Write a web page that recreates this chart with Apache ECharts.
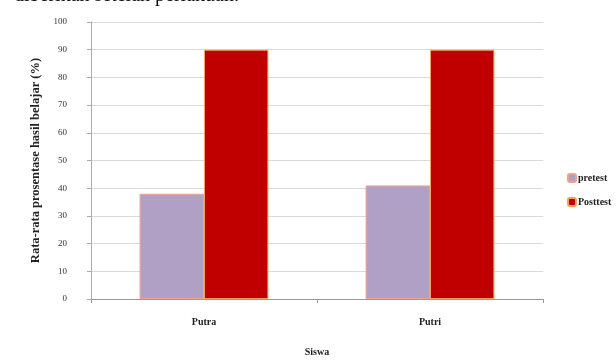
<!DOCTYPE html>
<html><head><meta charset="utf-8">
<script src="https://cdn.jsdelivr.net/npm/echarts@6/dist/echarts.min.js"></script>
<style>html,body{margin:0;padding:0;background:#fff}#c{width:616px;height:363px}</style>
</head><body><div id="c"></div>
<script>
const categories = ["Putra", "Putri"];
const pretest = [38, 41];
const posttest = [90, 90];
const seriesNames = ["pretest", "Posttest"];
const yTicks = [0, 10, 20, 30, 40, 50, 60, 70, 80, 90, 100];

const chart = echarts.init(document.getElementById('c'), null, {renderer: 'canvas'});
const serif = '"Liberation Serif", "DejaVu Serif", serif';
chart.setOption({
  animation: false,
  backgroundColor: '#fff',
  graphic: [{
    type: 'text', left: 14, top: -14,
    style: {text: 'diberikan setelah perlakuan.', font: '20px ' + serif, fill: '#111'}
  }],
  grid: {left: 91, right: 73, top: 22, bottom: 64},
  legend: {
    orient: 'vertical', left: 562, top: 168, itemWidth: 8, itemHeight: 8, itemGap: 14,
    data: seriesNames,
    textStyle: {fontFamily: serif, fontSize: 10, color: '#222', fontWeight: 'bold', padding: [0, 0, 0, -3]}
  },
  xAxis: {
    type: 'category', data: categories,
    name: 'Siswa', nameLocation: 'middle', nameGap: 48,
    nameTextStyle: {fontFamily: serif, fontSize: 10, fontWeight: 'bold', color: '#222'},
    axisLine: {lineStyle: {color: '#999'}},
    axisTick: {show: true, length: 4, lineStyle: {color: '#999'}},
    axisLabel: {fontFamily: serif, fontSize: 10, color: '#222', fontWeight: 'bold', margin: 18}
  },
  yAxis: {
    type: 'value', min: yTicks[0], max: yTicks[yTicks.length - 1], interval: 10,
    name: 'Rata-rata prosentase hasil belajar (%)', nameLocation: 'middle', nameGap: 46,
    nameTextStyle: {fontFamily: serif, fontSize: 12.5, fontWeight: 'bold', color: '#222', lineHeight: 13},
    axisLine: {show: true, lineStyle: {color: '#aaa'}},
    axisTick: {show: true, length: 4, lineStyle: {color: '#aaa'}},
    axisLabel: {fontFamily: serif, fontSize: 9, color: '#333', margin: 24},
    splitLine: {lineStyle: {color: '#d9d9d9'}}
  },
  series: [
    {name: seriesNames[0], type: 'bar', data: pretest, barWidth: '28.5%', barGap: '0%',
     itemStyle: {color: '#b0a0c6', borderColor: '#f0a090', borderWidth: 1}},
    {name: seriesNames[1], type: 'bar', data: posttest, barWidth: '28.5%',
     itemStyle: {color: '#c00000', borderColor: '#f5a060', borderWidth: 1}}
  ]
});
</script></body></html>
